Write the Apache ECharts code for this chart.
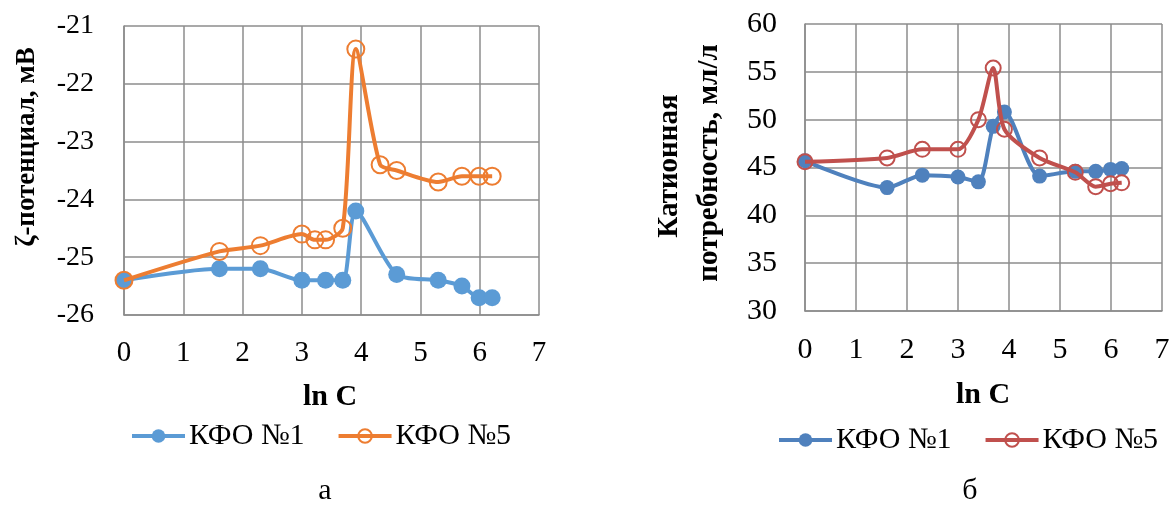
<!DOCTYPE html>
<html>
<head>
<meta charset="utf-8">
<script src="https://cdn.jsdelivr.net/npm/echarts@6/dist/echarts.min.js"></script>
<style>
  html, body { margin: 0; padding: 0; background: #fff; }
  #chart { width: 1173px; height: 505px; }
</style>
</head>
<body>
<div id="chart"></div>
<script>
// Panel а: zeta potential vs ln C
const lnC_a1 = [0, 1.61, 2.3, 3.0, 3.4, 3.69, 3.91, 4.6, 5.3, 5.7, 5.99, 6.21];
const zeta_1 = [-25.4, -25.2, -25.2, -25.4, -25.4, -25.4, -24.2, -25.3, -25.4, -25.5, -25.7, -25.7];
const lnC_a5 = [0, 1.61, 2.3, 3.0, 3.22, 3.4, 3.69, 3.91, 4.32, 4.6, 5.3, 5.7, 5.99, 6.21];
const zeta_5 = [-25.4, -24.9, -24.8, -24.6, -24.7, -24.7, -24.5, -21.4, -23.4, -23.5, -23.7, -23.6, -23.6, -23.6];

// Panel б: cationic demand vs ln C
const lnC_b = [0, 1.61, 2.3, 3.0, 3.4, 3.69, 3.91, 4.6, 5.3, 5.7, 5.99, 6.21];
const demand_1 = [45.7, 42.9, 44.2, 44.0, 43.5, 49.3, 50.8, 44.1, 44.6, 44.6, 44.8, 44.9];
const demand_5 = [45.6, 46.0, 46.9, 46.9, 50.0, 55.4, 49.0, 46.0, 44.5, 43.0, 43.3, 43.4];

const seriesNames = ['КФО №1', 'КФО №5'];
const xTicks = [0, 7, 1];          // min, max, step
const yTicksA = [-26, -21, 1];
const yTicksB = [30, 60, 5];

const FONT = "'Liberation Serif', 'Times New Roman', serif";
const GRID_LINE = '#8c8c8c';

const pairs = (xs, ys) => xs.map((x, i) => [x, ys[i]]);

function xAxisFor(gridIndex, size) {
  return {
    type: 'value', gridIndex, min: xTicks[0], max: xTicks[1], interval: xTicks[2],
    axisLine: { show: true, lineStyle: { color: GRID_LINE, width: 1.5 } },
    axisTick: { show: false },
    splitLine: { show: true, lineStyle: { color: GRID_LINE, width: 1.5 } },
    axisLabel: { color: '#000', fontFamily: FONT, fontSize: size, margin: 24 }
  };
}
function yAxisFor(gridIndex, t, size, margin) {
  return {
    type: 'value', gridIndex, min: t[0], max: t[1], interval: t[2],
    axisLine: { show: true, lineStyle: { color: GRID_LINE, width: 1.5 } },
    axisTick: { show: false },
    splitLine: { show: true, lineStyle: { color: GRID_LINE, width: 1.5 } },
    axisLabel: { color: '#000', fontFamily: FONT, fontSize: size, margin }
  };
}
function filledSeries(name, idx, data, color, size) {
  return {
    name, type: 'line', xAxisIndex: idx, yAxisIndex: idx, data,
    smooth: 0.25, symbol: 'circle', symbolSize: size,
    lineStyle: { color, width: 4 },
    itemStyle: { color },
    z: 2
  };
}
function hollowSeries(name, idx, data, color, size) {
  return {
    name, type: 'line', xAxisIndex: idx, yAxisIndex: idx, data,
    smooth: 0.25, symbol: 'circle', symbolSize: size,
    lineStyle: { color, width: 4 },
    itemStyle: { color: 'rgba(255,255,255,0)', borderColor: color, borderWidth: 2 },
    z: 3
  };
}
function legendFor(left, top, c1, c5) {
  return {
    left, top, padding: 0, itemWidth: 53, itemHeight: 17, itemGap: 32,
    textStyle: { color: '#000', fontFamily: FONT, fontSize: 30, padding: [0, 0, 0, -1] },
    data: [
      { name: seriesNames[0], itemStyle: { color: c1 }, lineStyle: { color: c1, width: 4 } },
      { name: seriesNames[1], itemStyle: { color: 'rgba(255,255,255,0)', borderColor: c5, borderWidth: 2 }, lineStyle: { color: c5, width: 4 } }
    ],
    selectedMode: false
  };
}
function label(text, x, y, opts = {}) {
  return {
    type: 'text', x, y, rotation: opts.rotate ? Math.PI / 2 : 0,
    style: {
      text, fill: '#000', fontFamily: FONT, fontSize: opts.size || 30,
      fontWeight: opts.bold ? 'bold' : 'normal',
      align: 'center', verticalAlign: 'middle'
    }
  };
}

const chart = echarts.init(document.getElementById('chart'), null, { renderer: 'canvas' });
chart.setOption({
  animation: false,
  backgroundColor: '#fff',
  textStyle: { fontFamily: FONT },
  grid: [
    { left: 124, top: 26, width: 415, height: 289 },
    { left: 805, top: 24, width: 357, height: 287 }
  ],
  xAxis: [xAxisFor(0, 29), xAxisFor(1, 30)],
  yAxis: [yAxisFor(0, yTicksA, 28, 30), yAxisFor(1, yTicksB, 30, 28)],
  legend: [
    legendFor(130, 421, '#5B9BD5', '#ED7D31'),
    legendFor(777, 425, '#4F81BD', '#C0504D')
  ],
  series: [
    filledSeries(seriesNames[0], 0, pairs(lnC_a1, zeta_1), '#5B9BD5', 17),
    hollowSeries(seriesNames[1], 0, pairs(lnC_a5, zeta_5), '#ED7D31', 17),
    filledSeries(seriesNames[0], 1, pairs(lnC_b, demand_1), '#4F81BD', 15),
    hollowSeries(seriesNames[1], 1, pairs(lnC_b, demand_5), '#C0504D', 15)
  ],
  graphic: [
    label('ζ-потенциал, мВ', 27, 147, { bold: true, rotate: true, size: 27 }),
    label('Катионная', 670, 166, { bold: true, rotate: true, size: 29 }),
    label('потребность, мл/л', 710, 163, { bold: true, rotate: true, size: 29 }),
    label('ln C', 330, 397, { bold: true }),
    label('ln C', 983, 395, { bold: true }),
    label('а', 325, 491),
    label('б', 970, 491)
  ]
});
</script>
</body>
</html>
